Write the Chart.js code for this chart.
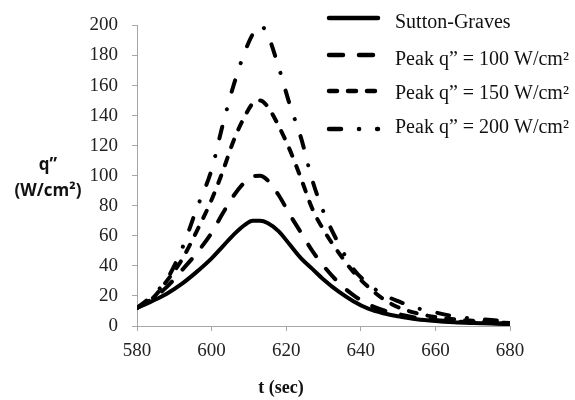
<!DOCTYPE html>
<html>
<head>
<meta charset="utf-8">
<script src="https://cdn.jsdelivr.net/npm/chart.js@4.4.1/dist/chart.umd.min.js"></script>
<style>
    html, body { margin: 0; padding: 0; background: #fff; }
    #wrap { width: 575px; height: 400px; }
</style>
</head>
<body>
<div id="wrap"><canvas id="heatChart" width="575" height="400"></canvas></div>
<script>
// time (sec)
const tSec = [580, 584, 588, 592, 596, 600, 603, 606, 609, 611, 613, 615, 618, 621, 624, 627, 630, 634, 638, 642, 646, 650, 655, 660, 665, 670, 675, 680];

// heat flux q" (W/cm2)
const suttonGraves = [12, 16.5, 21.5, 28, 36, 45, 53, 61, 67.5, 70, 70, 68.5, 63, 54, 45, 38, 31, 23, 16.5, 11.5, 8.5, 6.5, 4.5, 3.3, 2.5, 2, 1.6, 1.3];
const peak100 = [12, 18, 26, 37, 48.5, 62, 75, 87, 96, 99.5, 100, 97, 87, 74, 62, 50, 40, 29, 20.5, 14.5, 10.5, 8, 5.5, 4, 3, 2.5, 2, 1.6];
const peak150 = [12, 18, 30, 44, 63, 84, 103, 124, 140, 148, 150, 146, 133, 117, 98, 78, 64, 49, 36, 26, 18, 12.5, 8.5, 6, 4.5, 3.5, 2.5, 2];
const peak200 = [12, 20, 31, 51, 78, 104, 134, 161, 183, 194, 200, 194, 172, 147, 125, 97, 76, 55, 38, 28, 21, 16.5, 12, 9, 6.5, 5, 4, 3];

const seriesNames = ['Sutton-Graves', 'Peak q\u201D = 100 W/cm\u00B2', 'Peak q\u201D = 150 W/cm\u00B2', 'Peak q\u201D = 200 W/cm\u00B2'];
const seriesDash = [[], [14, 16], [8, 11], [12, 18, 0.1, 18]];

const axisGray = '#a6a6a6';
const serif = '"Liberation Serif", "Times New Roman", serif';

const toPoints = (vals) => vals.map((v, i) => ({ x: tSec[i], y: v }));

const makeSet = (idx, vals) => ({
    label: seriesNames[idx],
    data: toPoints(vals),
    borderColor: '#000',
    borderWidth: 4,
    borderDash: seriesDash[idx],
    borderCapStyle: 'round',
    borderJoinStyle: 'round',
    pointRadius: 0,
    fill: false,
    cubicInterpolationMode: 'monotone'
});

// legend + axis titles drawn by hand
const annotations = {
    id: 'annotations',
    afterDraw(chart) {
        const ctx = chart.ctx;
        const lineY = [18, 55, 91, 129];
        const textY = [23, 60, 94, 128];
        ctx.save();
        chart.data.datasets.forEach((ds, i) => {
            ctx.beginPath();
            ctx.strokeStyle = '#000';
            ctx.lineWidth = 4.5;
            ctx.lineCap = 'round';
            ctx.setLineDash(ds.borderDash);
            ctx.moveTo(329, lineY[i]);
            ctx.lineTo(378, lineY[i]);
            ctx.stroke();
            ctx.setLineDash([]);
            ctx.fillStyle = '#111';
            ctx.font = '20px ' + serif;
            ctx.textAlign = 'left';
            ctx.textBaseline = 'middle';
            ctx.fillText(ds.label, 395, textY[i]);
        });

        ctx.fillStyle = '#111';
        ctx.textAlign = 'center';
        ctx.textBaseline = 'middle';
        ctx.font = 'bold 17px "Open Sans", sans-serif';
        ctx.fillText('q\u201D', 48, 165);
        ctx.fillText('(W/cm\u00B2)', 48, 191);

        ctx.font = 'bold 18px ' + serif;
        ctx.fillText('t (sec)', 281, 388);
        ctx.restore();
    }
};

new Chart(document.getElementById('heatChart'), {
    type: 'line',
    data: {
        datasets: [
            makeSet(0, suttonGraves),
            makeSet(1, peak100),
            makeSet(2, peak150),
            makeSet(3, peak200)
        ]
    },
    options: {
        responsive: false,
        animation: false,
        layout: {
            padding: { left: 0, right: 65, top: 13, bottom: 0 }
        },
        plugins: {
            legend: { display: false },
            tooltip: { enabled: false }
        },
        scales: {
            x: {
                type: 'linear',
                min: 580,
                max: 680,
                afterFit: (scale) => { scale.height = 74; },
                ticks: {
                    stepSize: 20,
                    color: '#222',
                    padding: 9,
                    font: { family: serif, size: 19 }
                },
                grid: {
                    drawOnChartArea: false,
                    drawTicks: true,
                    tickLength: 5,
                    color: axisGray
                },
                border: { color: axisGray, width: 1 }
            },
            y: {
                min: 0,
                max: 200,
                afterFit: (scale) => { scale.width = 137; },
                ticks: {
                    stepSize: 20,
                    color: '#222',
                    padding: 14,
                    font: { family: serif, size: 19 }
                },
                grid: {
                    drawOnChartArea: false,
                    drawTicks: true,
                    tickLength: 5,
                    color: axisGray
                },
                border: { color: axisGray, width: 1 }
            }
        }
    },
    plugins: [annotations]
});
</script>
</body>
</html>
